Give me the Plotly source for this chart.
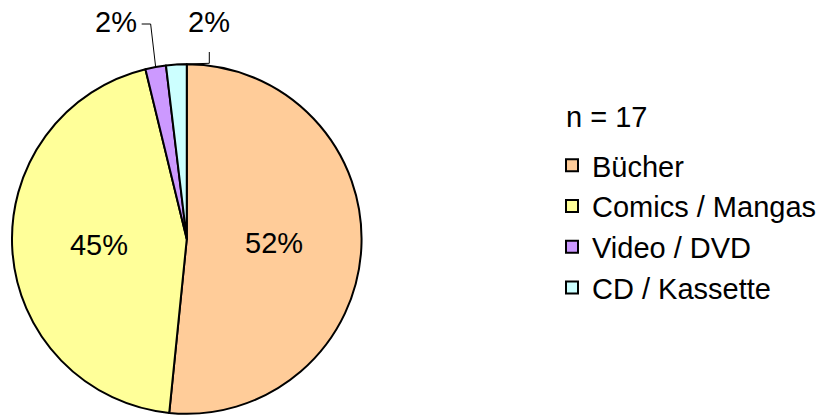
import math
import plotly.graph_objects as go

# Anteile je Medium (in %)
labels = ["Bücher", "Comics / Mangas", "Video / DVD", "CD / Kassette"]
values = [51.6, 44.6, 1.9, 1.9]
colors = ["#FFCC99", "#FFFF99", "#CC99FF", "#CCFFFF"]
n_text = "n = 17"

W, H = 822, 415
# Kreis in Pixeln
cx, cy, R = 187, 239, 175
FONT = "Liberation Sans, Arial, sans-serif"


def px(x):
    return x / W


def py(y):
    return 1 - y / H


def arc_point(frac, r=R):
    ang = 2 * math.pi * frac
    return cx + r * math.sin(ang), cy - r * math.cos(ang)


fig = go.Figure()
fig.add_trace(go.Pie(
    labels=labels, values=values, sort=False, direction="clockwise", rotation=0,
    marker=dict(colors=colors, line=dict(color="black", width=2)),
    texttemplate=["%{percent:.0%}", "%{percent:.0%}", "", ""],
    textposition="inside", insidetextorientation="horizontal",
    textfont=dict(family=FONT, size=29, color="black"),
    domain=dict(x=[px(cx - R), px(cx + R)], y=[py(cy + R), py(cy - R)]),
    hoverinfo="label+percent",
))

# kleine Segmente: Beschriftung außen mit Führungslinie
total = sum(values)
cum = 0
mids = []
for v in values:
    mids.append((cum + v / 2) / total)
    cum += v

shapes = []
annotations = []
# Video / DVD -> Beschriftung links oben
x0, y0 = arc_point(mids[2])
shapes.append(dict(type="path", xref="paper", yref="paper",
                   path=f"M{px(x0)},{py(y0)} L{px(x0 - 5)},{py(24)} L{px(x0 - 14)},{py(24)}",
                   line=dict(color="black", width=1)))
pct = round(values[2] / total * 100)
annotations.append(dict(x=px(x0 - 17), y=py(22), xref="paper", yref="paper", text=f"{pct}%",
                        showarrow=False, xanchor="right", yanchor="middle",
                        font=dict(family=FONT, size=29, color="black")))
# CD / Kassette -> Beschriftung rechts oben
x1, y1 = arc_point(mids[3])
shapes.append(dict(type="path", xref="paper", yref="paper",
                   path=f"M{px(x1)},{py(y1)} L{px(x1 + 33)},{py(y1 - 1)} L{px(x1 + 33)},{py(52)}",
                   line=dict(color="black", width=1)))
pct = round(values[3] / total * 100)
annotations.append(dict(x=px(x1 + 33), y=py(22), xref="paper", yref="paper", text=f"{pct}%",
                        showarrow=False, xanchor="center", yanchor="middle",
                        font=dict(family=FONT, size=29, color="black")))

annotations.append(dict(x=px(565), y=py(117), xref="paper", yref="paper", text=n_text,
                        showarrow=False, xanchor="left", yanchor="middle",
                        font=dict(family=FONT, size=29, color="black")))

fig.update_layout(
    width=W, height=H,
    margin=dict(l=0, r=0, t=0, b=0),
    paper_bgcolor="white", plot_bgcolor="white",
    showlegend=True,
    legend=dict(x=px(553), y=py(140), xanchor="left", yanchor="top",
                font=dict(family=FONT, size=29, color="black"),
                bgcolor="rgba(0,0,0,0)", traceorder="normal"),
    shapes=shapes, annotations=annotations,
)

# Standard-Rand des body entfernen, damit die Grafik bei (0,0) beginnt
fig.write_html("out.html", config={"displayModeBar": False},
               post_script="document.body.style.margin='0';")
